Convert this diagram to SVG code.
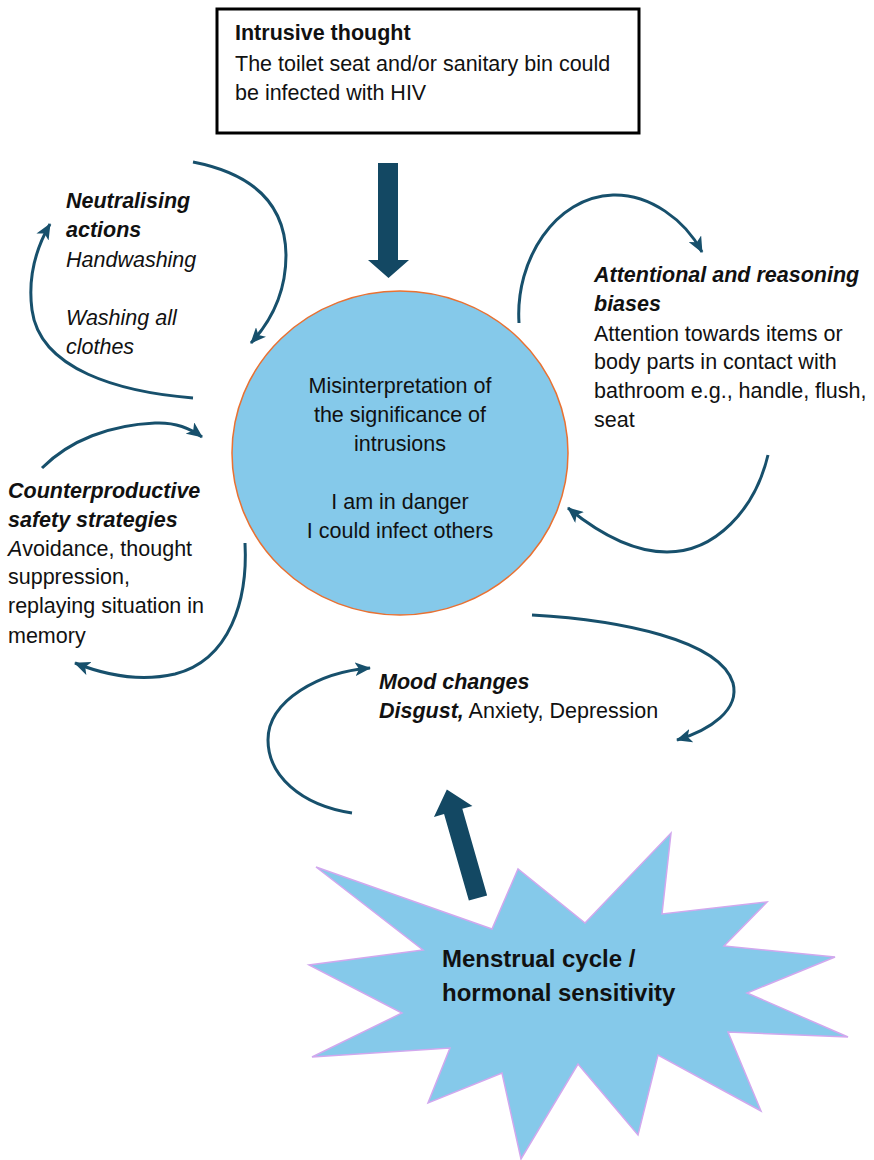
<svg xmlns="http://www.w3.org/2000/svg" width="874" height="1160" viewBox="0 0 874 1160">
<defs>
<style>
text{font-family:"Liberation Sans",Arial,sans-serif;font-size:21.5px;fill:#111}
.b{font-weight:bold}
.i{font-style:italic}
.bi{font-weight:bold;font-style:italic}
.mid{text-anchor:middle}
.big{font-size:24px;font-weight:bold}
.curve{fill:none;stroke:#17506c;stroke-width:3;marker-end:url(#ah)}
.thick{fill:#134863}
</style>
<marker id="ah" viewBox="0 0 16 14" refX="15" refY="7" markerWidth="16" markerHeight="14" markerUnits="userSpaceOnUse" orient="auto">
<path d="M0,0 L16,7 L0,14 L4,7 z" fill="#17506c"/>
</marker>
</defs>
<rect width="874" height="1160" fill="#fff"/>

<g id="intrusive-thought">
<rect x="217" y="9" width="422" height="124" fill="#fff" stroke="#000" stroke-width="3"/>
<text x="235" y="40" class="b">Intrusive thought</text>
<text x="235" y="71">The toilet seat and/or sanitary bin could</text>
<text x="235" y="100">be infected with HIV</text>
</g>

<g id="misinterpretation">
<ellipse cx="400" cy="453" rx="168" ry="162" fill="#85c9ea" stroke="#e97132" stroke-width="1.5"/>
<text x="400" y="393" class="mid">Misinterpretation of</text>
<text x="400" y="422" class="mid">the significance of</text>
<text x="400" y="451" class="mid">intrusions</text>
<text x="400" y="509" class="mid">I am in danger</text>
<text x="400" y="538" class="mid">I could infect others</text>
</g>

<g id="neutralising-actions">
<text x="66" y="208" class="bi">Neutralising</text>
<text x="66" y="237" class="bi">actions</text>
<text x="66" y="267" class="i">Handwashing</text>
<text x="66" y="325" class="i">Washing all</text>
<text x="66" y="354" class="i">clothes</text>
</g>

<g id="attentional-biases">
<text x="594" y="282" class="bi">Attentional and reasoning</text>
<text x="594" y="311" class="bi">biases</text>
<text x="594" y="341">Attention towards items or</text>
<text x="594" y="369">body parts in contact with</text>
<text x="594" y="398">bathroom e.g., handle, flush,</text>
<text x="594" y="427">seat</text>
</g>

<g id="safety-strategies">
<text x="8" y="498" class="bi">Counterproductive</text>
<text x="8" y="527" class="bi">safety strategies</text>
<text x="8" y="556"><tspan class="i">A</tspan>voidance, thought</text>
<text x="8" y="584">suppression,</text>
<text x="8" y="613">replaying situation in</text>
<text x="8" y="643">memory</text>
</g>

<g id="mood-changes">
<text x="379" y="689" class="bi">Mood changes</text>
<text x="379" y="718"><tspan class="bi">Disgust,</tspan> Anxiety, Depression</text>
</g>

<g id="menstrual-cycle">
<polygon points="316,867 492,929 518,869 585,923 671,833 662,914 767,902 724,946 835,957 747,993 848,1037 728,1032 761,1111 658,1055 638,1135 578,1064 521,1159 502,1073 428,1103 450,1048 312,1057 402,1013 309,965 423,950" fill="#85c9ea" stroke="#d1a8ee" stroke-width="1.5" stroke-linejoin="miter"/>
<text x="442" y="967" class="big">Menstrual cycle /</text>
<text x="442" y="1001" class="big">hormonal sensitivity</text>
</g>

<g id="connectors">
<polygon class="thick" points="378,163 398,163 398,260 409,260 388.5,278 368,260 378,260"/>
<polygon class="thick" transform="translate(478,898) rotate(-16)" points="-9.5,0 -9.5,-90 -20,-90 0,-113 20,-90 9.5,-90 9.5,0"/>
<path class="curve" d="M193,162 Q285,180 286,255 Q286,305 251,343"/>
<path class="curve" d="M193,398 C120,392 40,370 32,310 C28,280 35,250 50,224"/>
<path class="curve" d="M519,323 C515,260 555,197 613,195 C650,194 685,220 702,252"/>
<path class="curve" d="M768,455 C755,510 715,552 667,552 C630,552 595,530 568,508"/>
<path class="curve" d="M42,468 C70,440 110,425 155,423 C175,422 190,428 202,437"/>
<path class="curve" d="M245,543 C248,600 230,660 175,674 C140,682 105,675 75,663"/>
<path class="curve" d="M532,615 C620,620 720,640 733,683 C740,710 710,730 677,740"/>
<path class="curve" d="M352,813 C300,805 268,775 268,740 C268,700 320,672 370,668"/>
</g>
</svg>
